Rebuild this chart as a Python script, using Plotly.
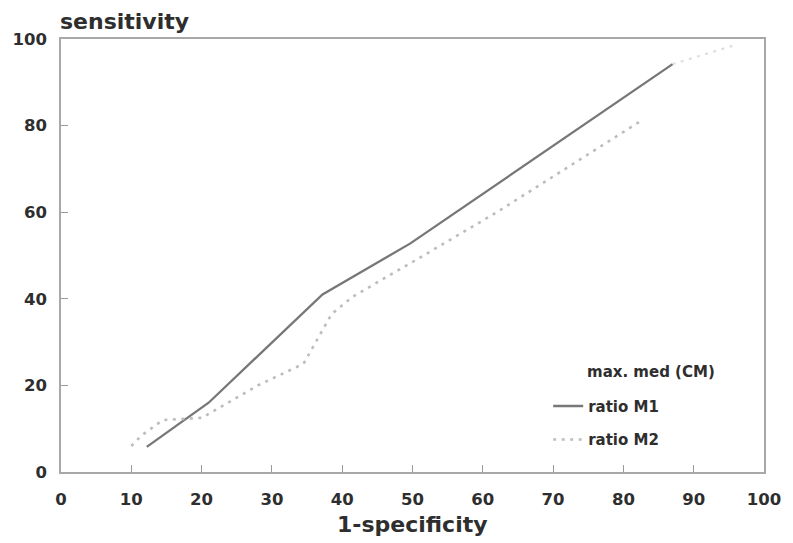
import plotly.graph_objects as go

# ROC-style curves: 1-specificity (%) vs sensitivity (%)
m1_x = [12.2, 21.0, 37.2, 49.7, 87.0]
m1_y = [5.8, 16.0, 41.0, 52.8, 94.2]

m2_x = [10.0, 11.5, 14.5, 20.0, 28.0, 34.5, 38.5, 41.5, 50.0, 62.0, 82.7]
m2_y = [6.0, 8.5, 12.0, 12.5, 20.0, 25.0, 36.5, 40.5, 48.5, 60.0, 81.3]

# faint dotted continuation in the upper right corner
ext_x = [87.0, 95.9]
ext_y = [94.2, 98.6]

x_ticks = [0, 10, 20, 30, 40, 50, 60, 70, 80, 90, 100]
y_ticks = [0, 20, 40, 60, 80, 100]

legend_title = "max. med (CM)"
names = ["ratio M1", "ratio M2"]

FONT = "DejaVu Sans"
TXT = "#2e2e2e"
DOTS = "3px,5.5px"

fig = go.Figure()
fig.add_trace(go.Scatter(x=m1_x, y=m1_y, mode="lines", name=names[0],
                         legendgroup="a",
                         line=dict(color="#777777", width=2.3)))
fig.add_trace(go.Scatter(x=m2_x, y=m2_y, mode="lines", name=names[1],
                         legendgroup="b",
                         line=dict(color="#bdbdbd", width=2.6, dash=DOTS)))
fig.add_trace(go.Scatter(x=ext_x, y=ext_y, mode="lines", showlegend=False,
                         line=dict(color="#dedede", width=2.2, dash=DOTS)))

axis_common = dict(showgrid=False, zeroline=False, showline=True, mirror=True,
                   linecolor="#a8a8a8", linewidth=1.5, ticks="inside",
                   ticklen=7, tickwidth=1.2, tickcolor="#9a9a9a",
                   tickfont=dict(family=FONT, size=16.5, color=TXT,
                                 weight="bold"))

fig.update_xaxes(range=[0, 100], tickvals=x_ticks, ticklabelstandoff=11,
                 **axis_common)
fig.update_yaxes(range=[0, 100], tickvals=y_ticks, ticklabelstandoff=9,
                 **axis_common)

fig.add_annotation(text="sensitivity", xref="paper", yref="paper",
                   x=0, y=1, xanchor="left", yanchor="bottom", yshift=3,
                   xshift=-3, showarrow=False,
                   font=dict(family=FONT, size=22, color=TXT,
                             weight="bold"))
fig.add_annotation(text="1-specificity", xref="paper", yref="paper",
                   x=0.5, y=0, xanchor="center", yanchor="middle",
                   yshift=-52, showarrow=False,
                   font=dict(family=FONT, size=22, color=TXT,
                             weight="bold"))
fig.add_annotation(text=legend_title, xref="paper", yref="paper",
                   x=0.746, y=0.231, xanchor="left", yanchor="middle",
                   showarrow=False,
                   font=dict(family=FONT, size=15, color=TXT,
                             weight="bold"))

fig.update_layout(
    width=793, height=543,
    margin=dict(l=52, r=22, t=39, b=71),
    paper_bgcolor="white", plot_bgcolor="white",
    showlegend=True,
    legend=dict(x=0.693, y=0.19, xanchor="left", yanchor="top",
                bgcolor="rgba(0,0,0,0)", tracegroupgap=11,
                font=dict(family=FONT, size=15, color=TXT,
                          weight="bold")),
)

fig.write_html("out.html")
